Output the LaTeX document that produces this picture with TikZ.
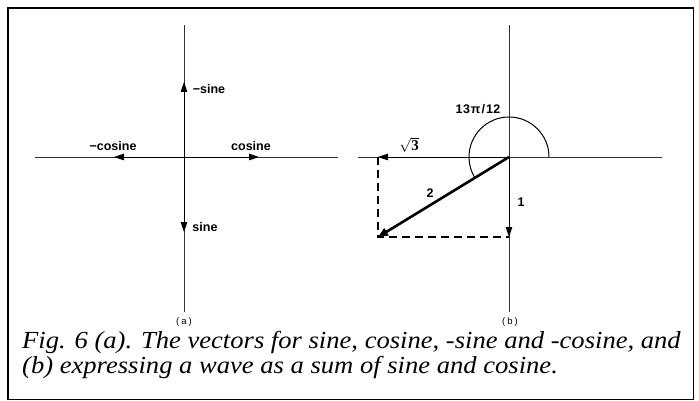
\documentclass[tikz,border=0pt]{standalone}
\usepackage{fontspec}
\setmainfont{Liberation Serif}
\setsansfont{Liberation Sans}
\usetikzlibrary{arrows.meta}
\begin{document}
\begin{tikzpicture}[x=1pt,y=-1pt,
  axis/.style={line width=0.9pt,draw=black!80},
  vec/.style={line width=0.9pt,-{Triangle[length=10pt,width=6.5pt]}},
  thickvec/.style={line width=2.6pt,-{Triangle[length=10pt,width=8pt]}},
  dashline/.style={line width=1.1pt,dash pattern=on 8pt off 5pt},
  lbl/.style={font=\sffamily\bfseries\fontsize{12.5}{13}\selectfont,inner sep=0pt},
  sub/.style={font=\sffamily\fontsize{9.5}{10}\selectfont,inner sep=0pt},
  captext/.style={font=\itshape\addfontfeature{FakeStretch=1.085}\fontsize{24.5}{25}\selectfont,inner sep=0pt,anchor=base west}]
\useasboundingbox (0,0) rectangle (699,401);
\draw[line width=1.6pt] (8,8) rectangle (693.5,399.5);
% (a)
\coordinate (Oa) at (184,157);
\coordinate (aT) at (184,25);
\coordinate (aB) at (184,312);
\coordinate (aL) at (35,157);
\coordinate (aR) at (338,157);
\coordinate (sUp) at (184,82);
\coordinate (sDn) at (184,232);
\coordinate (cL) at (114,157);
\coordinate (cR) at (259,157);
\draw[axis] (aT) -- (aB);
\draw[axis] (aL) -- (aR);
\draw[vec] (Oa) -- (sUp);
\draw[vec] (Oa) -- (sDn);
\draw[vec] (Oa) -- (cL);
\draw[vec] (Oa) -- (cR);
\node[lbl] (lms) at (209,89) {−sine};
\node[lbl] (ls) at (205,227) {sine};
\node[lbl] (lmc) at (113,146) {−cosine};
\node[lbl] (lc) at (251,146) {cosine};
\node[sub] (la) at (184,322) {(\kern2pt a\kern2pt)};
% (b)
\coordinate (Ob) at (509,157);
\coordinate (bT) at (509,25);
\coordinate (bB) at (509,312);
\coordinate (bL) at (358,157);
\coordinate (bR) at (662,157);
\coordinate (r3) at (378,157);
\coordinate (v2) at (378,237);
\coordinate (v1) at (509,237);
\draw[axis] (bT) -- (bB);
\draw[axis] (bL) -- (bR);
\draw[dashline] (r3) -- (v2) -- (v1);
\draw[vec] (Ob) -- (r3);
\draw[vec] (Ob) -- (v1);
\draw[thickvec] (Ob) -- (v2);
\draw[line width=1pt] (Ob) ++(40,0) arc[start angle=0,end angle=-211,radius=40];
\node[lbl,font=\bfseries\fontsize{15}{16}\selectfont] (l3) at (409,145) {$\sqrt{\mathbf{3}}$};
\node[lbl] (l2) at (430,193) {2};
\node[lbl] (l1) at (521,202) {1};
\node[lbl] (lang) at (478,109) {1\kern0.5pt3\kern1ptπ\kern1pt/\kern1pt1\kern0.5pt2};
\node[sub] (lb) at (510,322) {(\kern2pt b\kern2pt)};
% caption
\node[captext] (c1) at (22,348) {Fig. 6 (a). The vectors for sine, cosine, -sine and -cosine, and};
\node[captext] (c2) at (22,373) {(b) expressing a wave as a sum of sine and cosine.};
\end{tikzpicture}
\end{document}
